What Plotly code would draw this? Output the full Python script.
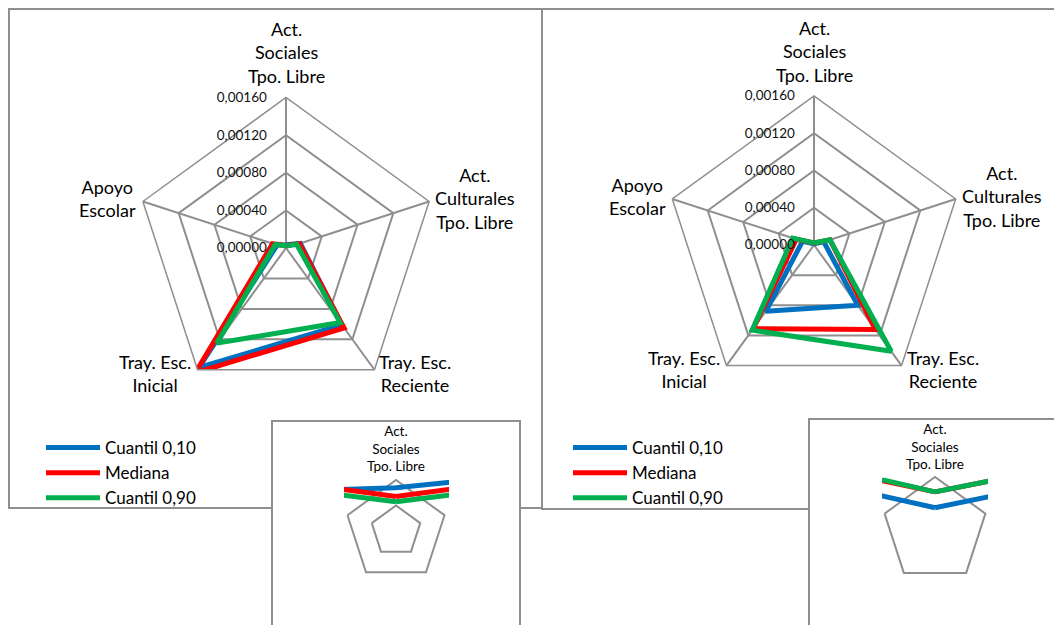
import plotly.graph_objects as go

# ---------------- data ----------------
categories = ["Act. Sociales Tpo. Libre", "Act. Culturales Tpo. Libre",
              "Tray. Esc. Reciente", "Tray. Esc. Inicial", "Apoyo Escolar"]
category_labels = ["Act.<br>Sociales<br>Tpo. Libre", "Act.<br>Culturales<br>Tpo. Libre",
                   "Tray. Esc.<br>Reciente", "Tray. Esc.<br>Inicial", "Apoyo<br>Escolar"]
series_names = ["Cuantil 0,10", "Mediana", "Cuantil 0,90"]
series_colors = ["#0070C0", "#FF0000", "#00B050"]

left_q10 = [0.000034, 0.00016, 0.00101, 0.00157, 0.00010]
left_med = [0.000027, 0.00015, 0.00105, 0.00164, 0.00015]
left_q90 = [0.000023, 0.00012, 0.00098, 0.00125, 0.00012]

right_q10 = [0.0000126, 0.00011, 0.00080, 0.00088, 0.00013]
right_med = [0.0000216, 0.00018, 0.00112, 0.00111, 0.00020]
right_q90 = [0.0000216, 0.00018, 0.00141, 0.00113, 0.00024]

radial_ticks = [0, 0.0004, 0.0008, 0.0012, 0.0016]
left_inset_rings = [0.00002, 0.00004]
right_inset_rings = [0.00003]

# ---------------- layout helpers ----------------
# the page body has an 8 px margin: the figure is sized to fill the rest of the window
OFF = 8
W, H = 1062 - OFF, 625 - OFF
GRID = "#8f8f8f"
FONT = "Lato"


def X(px):
    return (px - OFF) / W


def Y(py):
    return 1 - (py - OFF) / H


def dom(cx, cy, r):
    return dict(x=[X(cx - r), X(cx + r)], y=[Y(cy + r), Y(cy - r)])


fig = go.Figure()

charts = [
    ("polar", "polar3", "legend", [left_q10, left_med, left_q90]),
    ("polar2", "polar4", "legend2", [right_q10, right_med, right_q90]),
]
for main_sp, inset_sp, leg, data in charts:
    for name, color, vals in zip(series_names, series_colors, data):
        r = list(vals) + [vals[0]]
        th = categories + [categories[0]]
        fig.add_trace(go.Scatterpolar(r=r, theta=th, mode="lines", name=name,
                                      line=dict(color=color, width=5),
                                      subplot=main_sp, legend=leg, showlegend=True,
                                      cliponaxis=False, hoverinfo="skip"))
    for name, color, vals in zip(series_names, series_colors, data):
        r = list(vals) + [vals[0]]
        th = categories + [categories[0]]
        fig.add_trace(go.Scatterpolar(r=r, theta=th, mode="lines", name=name,
                                      line=dict(color=color, width=5),
                                      subplot=inset_sp, showlegend=False,
                                      hoverinfo="skip"))


def main_polar(cx, cy, r):
    return dict(
        domain=dom(cx, cy, r), bgcolor="rgba(0,0,0,0)", gridshape="linear",
        angularaxis=dict(rotation=90, direction="clockwise", type="category",
                         categoryarray=categories, showticklabels=False, ticks="",
                         showgrid=True, gridcolor=GRID, gridwidth=1.5,
                         showline=True, linecolor=GRID, linewidth=1.5),
        radialaxis=dict(range=[0, 0.0016], tickvals=radial_ticks, tickformat=".5f",
                        showline=False, ticks="outside", ticklen=14,
                        tickcolor="rgba(0,0,0,0)", gridcolor=GRID, gridwidth=1.5,
                        angle=90, side="counterclockwise", tickangle=90,
                        tickfont=dict(family=FONT, size=13.5, color="#111")),
    )


def inset_polar(cx, cy, rd, ring_val, ring_px, rings):
    return dict(
        domain=dom(cx, cy, rd), bgcolor="rgba(0,0,0,0)", gridshape="linear",
        angularaxis=dict(rotation=90, direction="clockwise", type="category",
                         categoryarray=categories, showticklabels=False, ticks="",
                         showgrid=False, showline=False),
        radialaxis=dict(range=[0, ring_val * rd / ring_px], tickvals=rings,
                        showticklabels=False, showline=False, ticks="",
                        gridcolor=GRID, gridwidth=1.5),
    )


legend_style = dict(xanchor="left", yanchor="top",
                    font=dict(family=FONT, size=17, color="black"),
                    bgcolor="rgba(0,0,0,0)", itemwidth=54, tracegroupgap=0)

fig.update_layout(
    width=W, height=H, margin=dict(l=0, r=0, t=0, b=0),
    paper_bgcolor="white", plot_bgcolor="white", separators=",.",
    polar=main_polar(286, 248, 150.5),
    polar2=main_polar(814, 245, 149),
    polar3=inset_polar(396, 531, 90, left_inset_rings[-1], 51, left_inset_rings),
    polar4=inset_polar(935, 530, 90, right_inset_rings[-1], 53, right_inset_rings),
    legend=dict(x=X(41), y=Y(430), **legend_style),
    legend2=dict(x=X(568), y=Y(430), **legend_style),
)

shapes = []


def rect(x0, y0, x1, y1, layer, fill=None, line=True):
    return dict(type="rect", xref="paper", yref="paper",
                x0=X(x0), x1=X(x1), y0=Y(y1), y1=Y(y0), layer=layer,
                fillcolor=fill if fill else "rgba(0,0,0,0)",
                line=dict(color=GRID if line else "rgba(0,0,0,0)", width=2 if line else 0))


# chart frames
shapes.append(rect(9, 9, 542, 508, "below"))
shapes.append(rect(542, 9, 1080, 509, "below"))
# inset boxes (white, covering the frames)
insets = [(272, 421, 520, 640, 344, 474, 449, 580),
          (809, 419, 1059, 640, 882, 472, 988, 580)]
for bx0, by0, bx1, by1, cx0, cy0, cx1, cy1 in insets:
    shapes.append(rect(bx0, by0, bx1, by1, "below", fill="white"))
for bx0, by0, bx1, by1, cx0, cy0, cx1, cy1 in insets:
    shapes.append(rect(bx0, by0, cx0, by1, "above", fill="white", line=False))
    shapes.append(rect(cx1, by0, bx1, by1, "above", fill="white", line=False))
    shapes.append(rect(cx0, by0, cx1, cy0, "above", fill="white", line=False))
    shapes.append(rect(cx0, cy1, cx1, by1, "above", fill="white", line=False))
    shapes.append(rect(bx0, by0, bx1, by1, "above"))
fig.update_layout(shapes=shapes)

# category labels
label_pos = [
    [(286, 52.5), (475, 198.5), (415, 374), (155, 374), (107, 199)],
    [(814, 51.5), (1002, 196.5), (943, 369.5), (684, 369.5), (637, 196)],
]
annotations = []
for chart in label_pos:
    for text, (lx, ly) in zip(category_labels, chart):
        annotations.append(dict(x=X(lx), y=Y(ly), xref="paper", yref="paper",
                                text=text, showarrow=False, xanchor="center",
                                yanchor="middle", align="center",
                                font=dict(family=FONT, size=18, color="black")))
for lx, ly in [(396, 448.5), (935, 446.5)]:
    annotations.append(dict(x=X(lx), y=Y(ly), xref="paper", yref="paper",
                            text=category_labels[0], showarrow=False,
                            xanchor="center", yanchor="middle", align="center",
                            font=dict(family=FONT, size=13.5, color="black")))
fig.update_layout(annotations=annotations)

fig.write_html("out.html")
